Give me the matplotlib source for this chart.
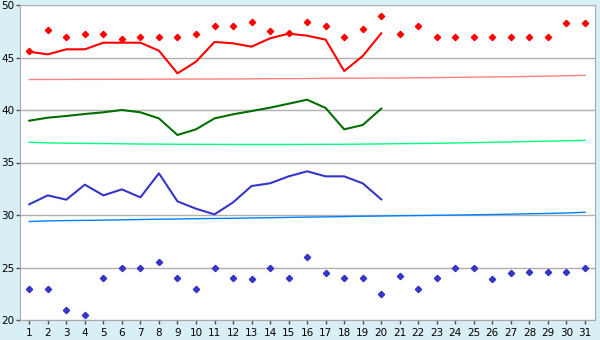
import numpy as np
import matplotlib
matplotlib.use('Agg')
import matplotlib.pyplot as plt

days = list(range(1, 32))

# measured series (days 1..20)
red_line = [45.55, 45.3, 45.78, 45.78, 46.41, 46.41, 46.41, 45.65, 43.49, 44.6,
            46.48, 46.35, 46.03, 46.83, 47.27, 47.08, 46.7, 43.71, 45.14, 47.3]
green_line = [38.98, 39.27, 39.43, 39.62, 39.78, 40.0, 39.78, 39.2, 37.62, 38.16,
              39.2, 39.59, 39.9, 40.22, 40.6, 40.98, 40.19, 38.16, 38.57, 40.13]
blue_line = [31.02, 31.87, 31.46, 32.89, 31.87, 32.44, 31.68, 33.97, 31.3, 30.6,
             30.06, 31.2, 32.76, 33.02, 33.68, 34.16, 33.68, 33.68, 33.02, 31.49]

# point series (days 1..31)
red_pts = [45.6, 47.6, 47.0, 47.2, 47.2, 46.8, 47.0, 47.0, 47.0, 47.2,
           48.0, 48.0, 48.4, 47.5, 47.3, 48.4, 48.0, 47.0, 47.7, 49.0,
           47.2, 48.0, 47.0, 47.0, 47.0, 47.0, 47.0, 47.0, 47.0, 48.3, 48.3]
blue_pts = [23.0, 23.0, 21.0, 20.5, 24.0, 25.0, 25.0, 25.5, 24.0, 23.0,
            25.0, 24.0, 23.9, 25.0, 24.0, 26.0, 24.5, 24.0, 24.0, 22.5,
            24.2, 23.0, 24.0, 25.0, 25.0, 23.9, 24.5, 24.6, 24.6, 24.6, 25.0]

# trend lines (days 1..31)
red_trend = [42.90, 42.91, 42.91, 42.92, 42.92, 42.93, 42.93, 42.94, 42.94, 42.95,
             42.95, 42.96, 42.97, 42.98, 42.99, 43.00, 43.01, 43.02, 43.03, 43.04,
             43.05, 43.07, 43.09, 43.11, 43.13, 43.15, 43.17, 43.20, 43.23, 43.26, 43.30]
green_trend = [36.93, 36.87, 36.84, 36.82, 36.80, 36.78, 36.76, 36.75, 36.74, 36.73,
               36.73, 36.72, 36.72, 36.72, 36.72, 36.73, 36.73, 36.74, 36.75, 36.77,
               36.79, 36.81, 36.83, 36.86, 36.89, 36.93, 36.96, 37.00, 37.03, 37.07, 37.11]
blue_trend = [29.38, 29.44, 29.47, 29.49, 29.51, 29.54, 29.57, 29.60, 29.62, 29.65,
              29.67, 29.69, 29.72, 29.74, 29.77, 29.80, 29.82, 29.85, 29.88, 29.90,
              29.93, 29.95, 29.97, 29.99, 30.02, 30.05, 30.08, 30.12, 30.15, 30.19, 30.26]

bg = '#d9eff6'
fig = plt.figure(figsize=(6, 3.4), dpi=100, facecolor=bg)
ax = fig.add_axes([20/600, 20/340, 575/600, 315/340])
ax.set_facecolor('white')

ax.set_xlim(0.5, 31.54)
ax.set_ylim(20, 50)
ax.set_yticks(range(20, 51, 5))
ax.set_xticks(days)
ax.grid(axis='y', color='#b0b0b0', lw=1)
ax.set_axisbelow(True)

for s in ax.spines.values():
    s.set_color('#a8a8a8')
ax.spines['top'].set_visible(False)
ax.tick_params(colors='#505050', labelcolor='black', labelsize=7.5, length=3, width=1)
ax.tick_params(axis='y', pad=1)
ax.tick_params(axis='x', pad=3)

n = len(red_line)
ax.plot(days, red_trend, color='#ff8080', lw=1)
ax.plot(days, green_trend, color='#00ff80', lw=1)
ax.plot(days, blue_trend, color='#0080ff', lw=1)

ax.plot(days[:n], red_line, color='#ff0000', lw=1.5)
ax.plot(days[:n], green_line, color='#006e00', lw=1.5)
ax.plot(days[:n], blue_line, color='#3535c8', lw=1.5)

ax.plot(days, red_pts, ls='none', marker='D', ms=3.2, color='#ff0000')
ax.plot(days, blue_pts, ls='none', marker='D', ms=3.2, color='#3535c8')

fig.savefig('out.png', dpi=100, facecolor=bg)
